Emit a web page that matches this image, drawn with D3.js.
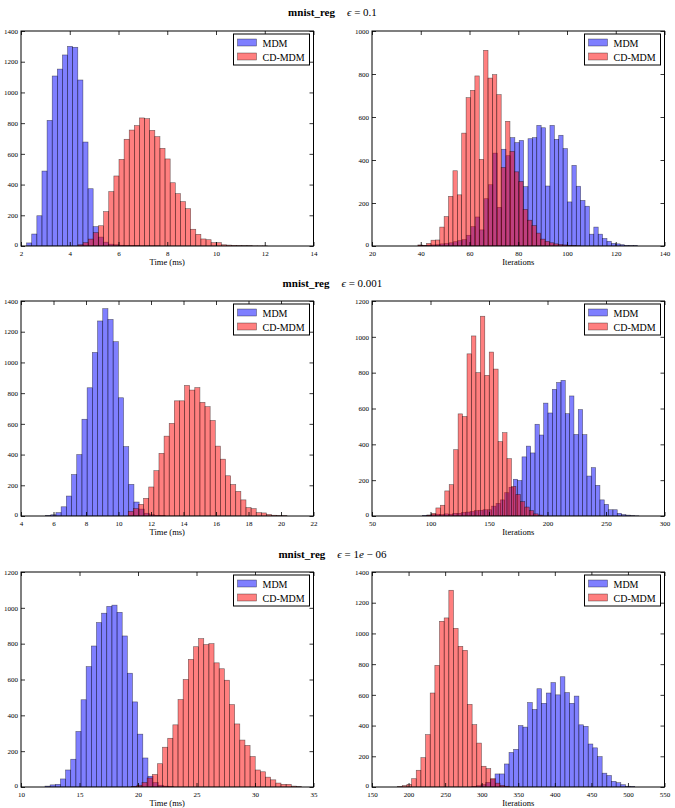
<!DOCTYPE html>
<html><head><meta charset="utf-8">
<script src="https://cdn.jsdelivr.net/npm/d3@7"></script>
<style>
html,body{margin:0;padding:0;background:#fff;}
svg text{font-family:"Liberation Serif","DejaVu Serif",serif;fill:#000;}
</style></head>
<body>
<svg id="chart" width="675" height="808"></svg>
<script>
// ---------- DATA ----------
const seriesNames = ["MDM", "CD-MDM"];
const titleDataset = "mnist_reg";
const epsLabels = ["0.1", "0.001", "1e-06"];

// Row 1, eps = 0.1 : time (ms)
const p1MdmBin = [2.23, 0.21];
const p1Mdm = [20, 78, 197, 488, 818, 1107, 1152, 1244, 1300, 1294, 1081, 677, 373, 126, 58, 25, 12, 8, 5, 3, 2, 2, 1, 1, 1, 1];
const p1CdBin = [4.34, 0.21];
const p1Cd = [8, 22, 45, 87, 132, 224, 354, 456, 564, 695, 755, 784, 834, 829, 753, 712, 636, 567, 412, 341, 289, 243, 109, 76, 46, 41, 22, 22, 8, 6, 4, 3, 2, 2, 1, 1, 1];
const p1XTicks = [2, 4, 6, 8, 10, 12, 14];
const p1YTicks = [0, 200, 400, 600, 800, 1000, 1200, 1400];

// Row 1, eps = 0.1 : iterations
const p2MdmBin = [39.0, 1.8];
const p2Mdm = [3, 2, 4, 5, 6, 10, 12, 15, 20, 25, 30, 50, 90, 135, 75, 220, 285, 432, 180, 450, 420, 504, 481, 491, 276, 499, 504, 561, 550, 279, 561, 496, 515, 453, 205, 375, 278, 212, 185, 55, 88, 55, 35, 22, 12, 10, 6, 3, 2, 2];
const p2CdBin = [38.8, 1.8];
const p2Cd = [5, 3, 12, 27, 28, 88, 137, 231, 350, 238, 525, 690, 724, 791, 403, 910, 781, 797, 704, 365, 580, 440, 345, 300, 170, 120, 95, 60, 32, 22, 15, 10, 7, 5, 3, 2, 1];
const p2XTicks = [20, 40, 60, 80, 100, 120, 140];
const p2YTicks = [0, 200, 400, 600, 800, 1000];

// Row 2, eps = 0.001 : time (ms)
const p3MdmBin = [5.51, 0.32];
const p3Mdm = [3, 8, 22, 60, 130, 270, 400, 630, 835, 1065, 1270, 1350, 1280, 1135, 770, 452, 206, 91, 45, 18, 8, 4, 2];
const p3CdBin = [10.6, 0.315];
const p3Cd = [30, 48, 76, 115, 189, 295, 408, 520, 603, 750, 750, 850, 820, 836, 740, 712, 622, 455, 370, 262, 205, 160, 105, 55, 48, 22, 20, 10, 5, 3, 2];
const p3XTicks = [4, 6, 8, 10, 12, 14, 16, 18, 20, 22];
const p3YTicks = [0, 200, 400, 600, 800, 1000, 1200, 1400];

// Row 2, eps = 0.001 : iterations
const p4MdmBin = [93.1, 3.7];
const p4Mdm = [3, 5, 8, 10, 8, 12, 10, 15, 15, 20, 22, 25, 30, 32, 35, 35, 55, 70, 90, 130, 160, 205, 198, 330, 390, 352, 512, 452, 630, 575, 707, 745, 757, 571, 670, 455, 594, 454, 223, 270, 171, 90, 65, 35, 35, 15, 8, 5, 2, 1];
const p4CdBin = [97.0, 3.8];
const p4Cd = [5, 15, 45, 60, 140, 175, 370, 570, 555, 905, 1005, 800, 1115, 785, 915, 820, 415, 465, 320, 165, 120, 80, 50, 30, 12, 5];
const p4XTicks = [50, 100, 150, 200, 250, 300];
const p4YTicks = [0, 200, 400, 600, 800, 1000, 1200];

// Row 3, eps = 1e-06 : time (ms)
const p5MdmBin = [12.05, 0.44];
const p5Mdm = [5, 12, 15, 45, 95, 155, 310, 487, 672, 787, 918, 970, 1008, 1015, 975, 843, 635, 475, 295, 162, 60, 25, 10, 5, 2];
const p5CdBin = [19.46, 0.44];
const p5Cd = [3, 10, 25, 50, 70, 130, 222, 272, 347, 488, 600, 712, 783, 828, 795, 800, 693, 660, 596, 460, 352, 262, 232, 170, 95, 85, 55, 40, 22, 15, 15, 5, 2];
const p5XTicks = [10, 15, 20, 25, 30, 35];
const p5YTicks = [0, 200, 400, 600, 800, 1000, 1200];

// Row 3, eps = 1e-06 : iterations
const p6MdmBin = [286.4, 6.37];
const p6Mdm = [3, 8, 15, 30, 50, 85, 85, 150, 225, 245, 400, 390, 550, 505, 640, 545, 612, 680, 600, 718, 615, 545, 592, 405, 395, 280, 255, 198, 90, 75, 37, 28, 15, 5, 3];
const p6CdBin = [185.0, 6.37];
const p6Cd = [3, 9, 17, 54, 109, 191, 341, 612, 792, 1079, 1101, 1281, 1033, 916, 890, 538, 406, 286, 135, 120, 55, 25, 10, 5];
const p6XTicks = [150, 200, 250, 300, 350, 400, 450, 500, 550];
const p6YTicks = [0, 200, 400, 600, 800, 1000, 1200, 1400];

const xLabels = ["Time (ms)", "Iterations"];

// ---------- LAYOUT ----------
const svg = d3.select("#chart");
const colLeft = [21, 372];
const plotW = 292.5;
const rowTop = [31, 301, 572];
const plotH = 215;
const titleY = [16, 287, 558];
const fills = ["rgba(0,0,255,0.5)", "rgba(255,0,0,0.5)"];
const edge = "rgba(0,0,0,0.55)";

const panels = [
  {r:0,c:0, mdm:[p1MdmBin,p1Mdm], cd:[p1CdBin,p1Cd], xt:p1XTicks, yt:p1YTicks, xl:0},
  {r:0,c:1, mdm:[p2MdmBin,p2Mdm], cd:[p2CdBin,p2Cd], xt:p2XTicks, yt:p2YTicks, xl:1},
  {r:1,c:0, mdm:[p3MdmBin,p3Mdm], cd:[p3CdBin,p3Cd], xt:p3XTicks, yt:p3YTicks, xl:0},
  {r:1,c:1, mdm:[p4MdmBin,p4Mdm], cd:[p4CdBin,p4Cd], xt:p4XTicks, yt:p4YTicks, xl:1},
  {r:2,c:0, mdm:[p5MdmBin,p5Mdm], cd:[p5CdBin,p5Cd], xt:p5XTicks, yt:p5YTicks, xl:0},
  {r:2,c:1, mdm:[p6MdmBin,p6Mdm], cd:[p6CdBin,p6Cd], xt:p6XTicks, yt:p6YTicks, xl:1}
];

// titles
epsLabels.forEach((e, i) => {
  const t = svg.append("text").attr("x", 332.5).attr("y", titleY[i])
    .attr("text-anchor", "middle").style("font-size", "11px");
  t.append("tspan").attr("font-weight", "bold").text(titleDataset);
  t.append("tspan").attr("dx", 12).attr("font-style", "italic").text("ϵ");
  if (e === "1e-06") {
    t.append("tspan").text(" = 1");
    t.append("tspan").attr("font-style", "italic").text("e");
    t.append("tspan").text(" − 06");
  } else {
    t.append("tspan").text(" = " + e);
  }
});

panels.forEach(p => {
  const x0 = colLeft[p.c], y0 = rowTop[p.r];
  const g = svg.append("g").attr("transform", `translate(${x0},${y0})`);
  const x = d3.scaleLinear().domain([p.xt[0], p.xt[p.xt.length - 1]]).range([0, plotW]);
  const y = d3.scaleLinear().domain([p.yt[0], p.yt[p.yt.length - 1]]).range([plotH, 0]);

  const clipId = `clip${p.r}${p.c}`;
  g.append("clipPath").attr("id", clipId).append("rect").attr("width", plotW).attr("height", plotH);
  const bars = g.append("g").attr("clip-path", `url(#${clipId})`);

  [p.mdm, p.cd].forEach((s, si) => {
    const [start, w] = s[0];
    const data = s[1].map((v, i) => ({a: start + i * w, b: start + (i + 1) * w, v}));
    bars.selectAll(null).data(data.filter(d => d.v > 0)).enter().append("rect")
      .attr("x", d => x(d.a)).attr("width", d => x(d.b) - x(d.a))
      .attr("y", d => y(d.v)).attr("height", d => y(0) - y(d.v))
      .attr("fill", fills[si]).attr("stroke", edge).attr("stroke-width", 0.6);
  });

  // axes with inward ticks on all sides
  const fmt = d3.format("d");
  const ax = g.append("g").attr("transform", `translate(0,${plotH})`)
    .call(d3.axisBottom(x).tickValues(p.xt).tickFormat(fmt).tickSizeInner(-4).tickSizeOuter(0).tickPadding(5));
  const axT = g.append("g").call(d3.axisTop(x).tickValues(p.xt).tickFormat("").tickSizeInner(-4).tickSizeOuter(0));
  const ay = g.append("g").call(d3.axisLeft(y).tickValues(p.yt).tickFormat(fmt).tickSizeInner(-4).tickSizeOuter(0).tickPadding(3));
  const ayR = g.append("g").attr("transform", `translate(${plotW},0)`)
    .call(d3.axisRight(y).tickValues(p.yt).tickFormat("").tickSizeInner(-4).tickSizeOuter(0));
  [ax, axT, ay, ayR].forEach(a => {
    a.select(".domain").remove();
    a.selectAll("line").attr("stroke", "#000").attr("stroke-width", 0.8);
    a.selectAll("text").style("font-size", "7px").style("font-family", '"Liberation Serif","DejaVu Serif",serif');
  });
  // keep the bottom y label clear of the x tick labels below it
  ay.selectAll("text").filter(d => d === 0).attr("dy", "0.1em");

  g.append("rect").attr("width", plotW).attr("height", plotH)
    .attr("fill", "none").attr("stroke", "#000").attr("stroke-width", 1);

  // x label
  g.append("text").attr("x", plotW / 2).attr("y", plotH + 19).attr("text-anchor", "middle")
    .style("font-size", "8.5px").text(xLabels[p.xl]);

  // legend
  const lw = 76, lh = 31;
  const lg = g.append("g").attr("transform", `translate(${plotW - 4 - lw},3)`);
  lg.append("rect").attr("width", lw).attr("height", lh).attr("fill", "#fff")
    .attr("stroke", "#000").attr("stroke-width", 1);
  seriesNames.forEach((n, i) => {
    lg.append("rect").attr("x", 4).attr("y", 5 + i * 14).attr("width", 19).attr("height", 7)
      .attr("fill", fills[i]).attr("stroke", edge).attr("stroke-width", 0.6);
    lg.append("text").attr("x", 29).attr("y", 12.5 + i * 14).style("font-size", "10px").text(n);
  });
});
</script>
</body></html>
